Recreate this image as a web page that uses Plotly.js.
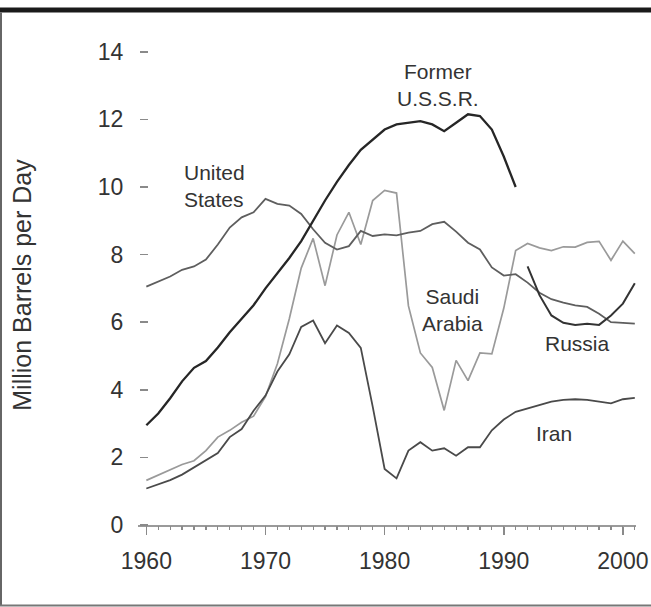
<!DOCTYPE html>
<html>
<head>
<meta charset="utf-8">
<script src="https://cdn.plot.ly/plotly-3.0.1.min.js"></script>
<style>
  html, body { margin: 0; padding: 0; background: #ffffff; }
  #chart { width: 651px; height: 607px; }
</style>
</head>
<body>
<div id="chart"></div>
<script>
// ---- Data (million barrels per day) ----
const years = [1960, 1961, 1962, 1963, 1964, 1965, 1966, 1967, 1968, 1969,
               1970, 1971, 1972, 1973, 1974, 1975, 1976, 1977, 1978, 1979,
               1980, 1981, 1982, 1983, 1984, 1985, 1986, 1987, 1988, 1989,
               1990, 1991, 1992, 1993, 1994, 1995, 1996, 1997, 1998, 1999,
               2000, 2001];

const ussrYears = [1960, 1961, 1962, 1963, 1964, 1965, 1966, 1967, 1968, 1969,
                   1970, 1971, 1972, 1973, 1974, 1975, 1976, 1977, 1978, 1979,
                   1980, 1981, 1982, 1983, 1984, 1985, 1986, 1987, 1988, 1989,
                   1990, 1991];
const ussr = [2.95, 3.3, 3.75, 4.25, 4.65, 4.85, 5.25, 5.7, 6.1, 6.5,
              7.0, 7.45, 7.9, 8.4, 9.0, 9.6, 10.15, 10.65, 11.1, 11.4,
              11.7, 11.85, 11.9, 11.95, 11.85, 11.65, 11.9, 12.15, 12.1, 11.7,
              10.9, 10.0];

const unitedStates = [7.05, 7.2, 7.35, 7.55, 7.65, 7.85, 8.3, 8.8, 9.1, 9.25,
                      9.65, 9.5, 9.45, 9.2, 8.75, 8.35, 8.15, 8.25, 8.7, 8.55,
                      8.6, 8.57, 8.65, 8.7, 8.9, 8.97, 8.68, 8.35, 8.15, 7.62,
                      7.38, 7.42, 7.17, 6.87, 6.68, 6.58, 6.5, 6.45, 6.25, 6.0,
                      5.97, 5.96];

const saudiArabia = [1.32, 1.48, 1.64, 1.79, 1.9, 2.2, 2.6, 2.8, 3.04, 3.22,
                     3.8, 4.77, 6.1, 7.6, 8.48, 7.08, 8.58, 9.25, 8.3, 9.6,
                     9.9, 9.82, 6.48, 5.09, 4.66, 3.39, 4.87, 4.27, 5.09, 5.06,
                     6.41, 8.12, 8.33, 8.2, 8.12, 8.23, 8.22, 8.36, 8.39, 7.83,
                     8.4, 8.03];

const iran = [1.08, 1.2, 1.33, 1.49, 1.71, 1.91, 2.13, 2.6, 2.84, 3.38,
              3.83, 4.54, 5.05, 5.86, 6.05, 5.38, 5.9, 5.68, 5.24, 3.5,
              1.66, 1.38, 2.2, 2.45, 2.2, 2.27, 2.05, 2.3, 2.3, 2.8,
              3.12, 3.35, 3.45, 3.55, 3.65, 3.7, 3.72, 3.7, 3.66, 3.6,
              3.72, 3.76];

const russiaYears = [1992, 1993, 1994, 1995, 1996, 1997, 1998, 1999, 2000, 2001];
const russia = [7.65, 6.8, 6.2, 5.98, 5.92, 5.95, 5.92, 6.2, 6.55, 7.15];

const yTickVals = [0, 2, 4, 6, 8, 10, 12, 14];

// ---- Traces ----
const traces = [
  { x: years, y: saudiArabia, name: 'Saudi Arabia', mode: 'lines',
    line: { color: '#9a9a9a', width: 1.7 } },
  { x: years, y: unitedStates, name: 'United States', mode: 'lines',
    line: { color: '#5e5e5e', width: 1.8 } },
  { x: years, y: iran, name: 'Iran', mode: 'lines',
    line: { color: '#4a4a4a', width: 1.8 } },
  { x: russiaYears, y: russia, name: 'Russia', mode: 'lines',
    line: { color: '#333333', width: 2 } },
  { x: ussrYears, y: ussr, name: 'Former U.S.S.R.', mode: 'lines',
    line: { color: '#262626', width: 2.3 } },
  // invisible trace that only activates the yearly minor-tick axis
  { x: years, y: unitedStates, xaxis: 'x2', yaxis: 'y', mode: 'lines',
    line: { width: 0 }, hoverinfo: 'skip', showlegend: false, opacity: 0 }
];

const FONT = '"Liberation Sans", Arial, Helvetica, sans-serif';
const labelFont = { family: FONT, size: 21, color: '#333333' };

function lab(text, x, y, anchor) {
  return { text: text, x: x, y: y, xref: 'x', yref: 'y', showarrow: false,
           xanchor: anchor || 'center', yanchor: 'middle', align: anchor || 'center',
           font: labelFont };
}

// pixel helpers for frame decorations (plot area: left 138, width 498, top 45, height 480)
const L = 138, W = 498, T = 45, H = 480;
const px = v => (v - L) / W;
const py = v => (T + H - v) / H;

const layout = {
  width: 651, height: 607,
  margin: { l: L, r: 651 - L - W, t: T, b: 607 - T - H },
  paper_bgcolor: '#ffffff', plot_bgcolor: '#ffffff',
  showlegend: false,
  font: { family: FONT, color: '#333333' },
  xaxis: {
    range: [1959.3, 2001.1],
    tickmode: 'linear', tick0: 1960, dtick: 10,
    ticks: 'outside', ticklen: 8, tickwidth: 1.5, tickcolor: '#8a8a8a',
    showline: true, linecolor: '#9a9a9a', linewidth: 2,
    showgrid: false, zeroline: false,
    tickfont: { family: FONT, size: 23, color: '#333333' },
    ticklabelstandoff: 6
  },
  xaxis2: {
    overlaying: 'x', matches: 'x', anchor: 'y', side: 'bottom',
    range: [1959.3, 2001.1],
    tickmode: 'linear', tick0: 1960, dtick: 1,
    ticks: 'outside', ticklen: 4, tickwidth: 1.2, tickcolor: '#8a8a8a',
    showticklabels: false, showline: false, showgrid: false, zeroline: false
  },
  yaxis: {
    range: [0, 14.2],
    anchor: 'free', position: px(148),
    tickmode: 'array', tickvals: yTickVals,
    ticks: 'outside', ticklen: 8, tickwidth: 1.5, tickcolor: '#8a8a8a',
    showline: false, showgrid: false, zeroline: false,
    tickfont: { family: FONT, size: 23, color: '#333333' },
    ticklabelstandoff: 12,
    title: { text: 'Million Barrels per Day', standoff: 58,
             font: { family: FONT, size: 25, color: '#333333' } }
  },
  annotations: [
    lab('United<br>States', 1963.0, 10.03, 'left'),
    lab('Former<br>U.S.S.R.', 1984.45, 13.03),
    lab('Saudi<br>Arabia', 1985.7, 6.35),
    lab('Russia', 1996.16, 5.38),
    lab('Iran', 1994.23, 2.72)
  ],
  shapes: [
    { type: 'rect', xref: 'paper', yref: 'paper',
      x0: px(0), x1: px(651), y0: py(12.5), y1: py(7.5),
      fillcolor: '#1a1a1a', line: { width: 0 }, layer: 'above' },
    { type: 'line', xref: 'paper', yref: 'paper',
      x0: px(1), x1: px(1), y0: py(12.5), y1: py(605.5),
      line: { color: '#666666', width: 2 } },
    { type: 'line', xref: 'paper', yref: 'paper',
      x0: px(0), x1: px(651), y0: py(605.5), y1: py(605.5),
      line: { color: '#777777', width: 2 } }
  ]
};

Plotly.newPlot('chart', traces, layout, { displayModeBar: false, staticPlot: true });
</script>
</body>
</html>
